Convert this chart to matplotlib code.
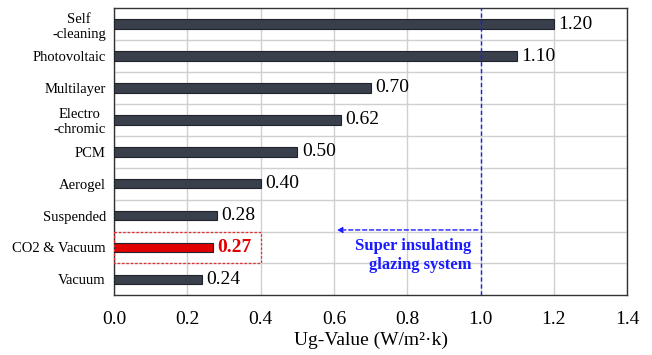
import matplotlib.pyplot as plt
from matplotlib.patches import Rectangle

plt.rcParams['font.family'] = ['Liberation Serif', 'DejaVu Serif']

# data, top to bottom
labels = ['Self\n-cleaning', 'Photovoltaic', 'Multilayer', 'Electro\n-chromic',
          'PCM', 'Aerogel', 'Suspended', 'CO2 & Vacuum', 'Vacuum']
values = [1.20, 1.10, 0.70, 0.62, 0.50, 0.40, 0.28, 0.27, 0.24]
highlight = 'CO2 & Vacuum'
threshold = 1.0

fig, ax = plt.subplots(figsize=(6.52, 3.55), dpi=100)
fig.subplots_adjust(left=0.175, right=0.962, top=0.977, bottom=0.168)

ypos = list(range(len(labels)))
colors = ['#e00000' if l == highlight else '#3a3f4c' for l in labels]
ax.barh(ypos, values, height=0.3, color=colors, edgecolor='#1e222b',
        linewidth=0.8, zorder=3)

for y, v, l in zip(ypos, values, labels):
    if l == highlight:
        ax.text(v + 0.012, y, f'{v:.2f}', va='center', ha='left', fontsize=14,
                color='#e00000', fontweight='bold')
    else:
        ax.text(v + 0.012, y, f'{v:.2f}', va='center', ha='left', fontsize=14)

# dashed box round the highlighted bar
hi = labels.index(highlight)
ax.add_patch(Rectangle((0, hi - 0.5), 0.4, 1.0, fill=False, edgecolor='#e03030',
                       linestyle=(0, (2, 1.5)), linewidth=0.9, zorder=4))

# threshold line and arrow
ax.axvline(threshold, color='#1a1aff', linestyle=(0, (3, 2)), linewidth=1.0, zorder=4)
ax.annotate('', xy=(0.6, hi - 0.55), xytext=(threshold, hi - 0.55),
            arrowprops=dict(arrowstyle='-|>', color='#1a1aff', lw=1.0,
                            linestyle=(0, (3, 2)), mutation_scale=8), zorder=4)
ax.text(threshold - 0.025, hi - 0.3, 'Super insulating\nglazing system', ha='right',
        va='top', color='#1a1aff', fontsize=12, fontweight='bold', linespacing=1.25,
        multialignment='right')

ax.set_xlim(0, 1.4)
ax.set_ylim(len(labels) - 0.5, -0.5)
ax.set_xticks([0.0, 0.2, 0.4, 0.6, 0.8, 1.0, 1.2, 1.4])
ax.set_xticklabels([f'{t:.1f}' for t in ax.get_xticks()], fontsize=14)
ax.set_yticks(ypos)
ax.set_yticklabels(labels, fontsize=10.5, linespacing=1.2, multialignment='center')
ax.set_yticks([y + 0.5 for y in ypos[:-1]], minor=True)
ax.tick_params(axis='y', which='both', length=0, pad=6)
ax.tick_params(axis='x', length=0, pad=11)

ax.grid(True, axis='x', color='#d0d0d0', linewidth=1.0, zorder=0)
ax.grid(True, axis='y', which='minor', color='#d0d0d0', linewidth=1.0, zorder=0)
ax.set_axisbelow(True)
for s in ax.spines.values():
    s.set_color('#333333')
    s.set_linewidth(1.0)

ax.set_xlabel('Ug-Value (W/m²·k)', fontsize=14, labelpad=3)

plt.savefig('out.png', dpi=100)
